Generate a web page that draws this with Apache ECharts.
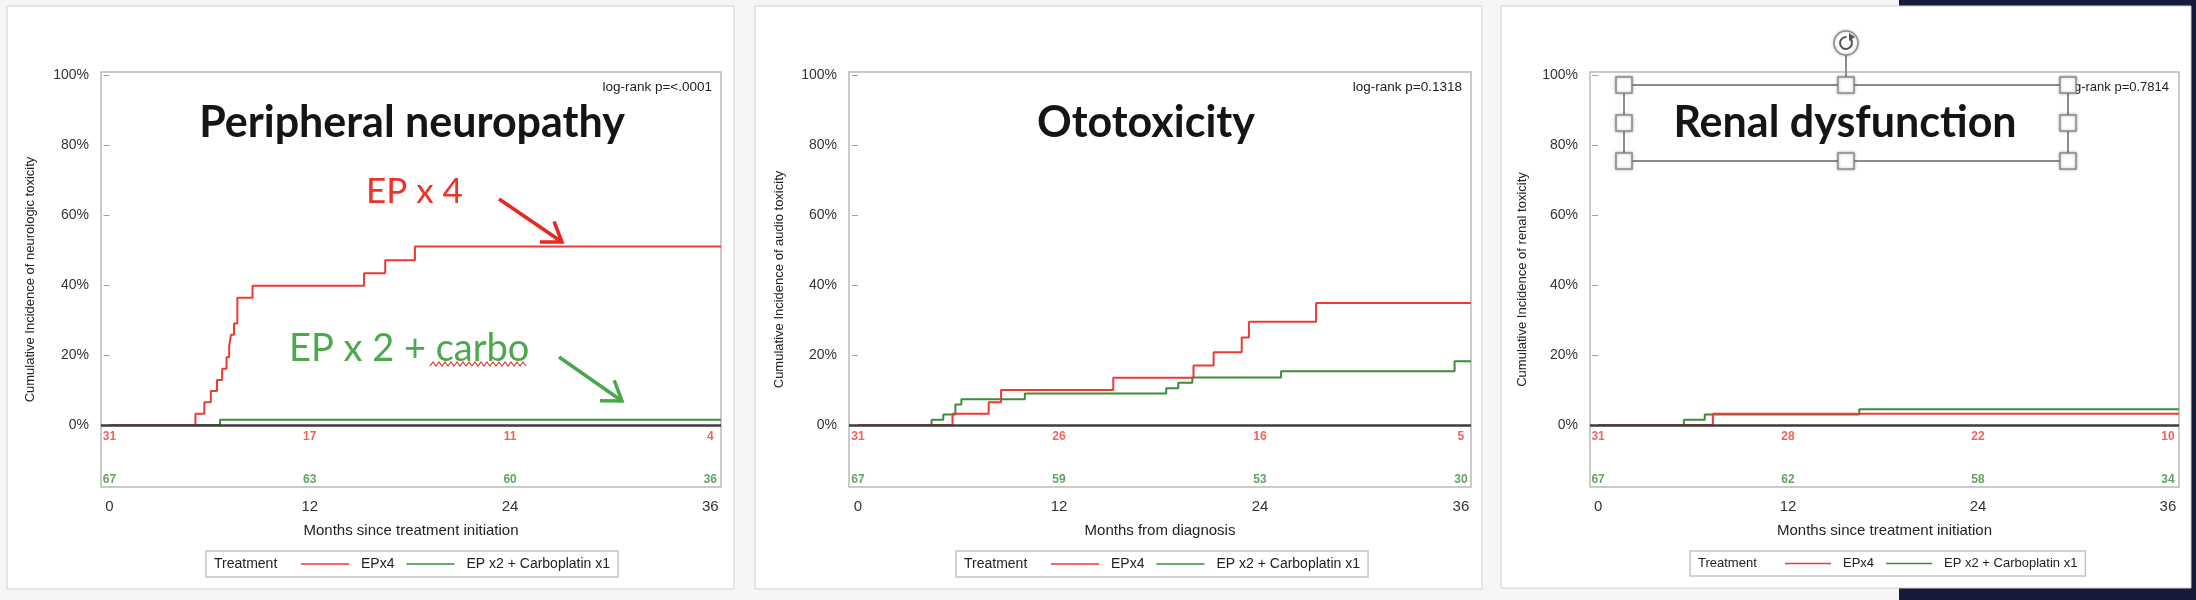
<!DOCTYPE html>
<html>
<head>
<meta charset="utf-8">
<script src="https://cdn.jsdelivr.net/npm/echarts@6/dist/echarts.min.js"></script>
<style>
html, body { margin: 0; padding: 0; background: #f6f6f7; }
#chart { width: 2196px; height: 600px; }
</style>
</head>
<body>
<div id="chart"></div>
<script>
// tick values
var monthTicks = [0, 12, 24, 36];
var pctTicks = [0, 20, 40, 60, 80, 100];

// peripheral neuropathy curves (months, cumulative %)
var neuroEp4Months = [0, 5.15, 5.68, 6.07, 6.44, 6.75, 7.01, 7.17, 7.28, 7.46, 7.66, 8.57, 15.25, 16.52, 18.3];
var neuroEp4Pct    = [0, 3.2, 6.5, 9.7, 12.9, 16.1, 19.4, 22.6, 25.8, 29.0, 36.4, 39.8, 43.4, 47.1, 51.0];
var neuroCarboMonths = [0, 6.62];
var neuroCarboPct    = [0, 1.5];

// ototoxicity curves
var audioEp4Months = [0, 5.64, 7.8, 8.54, 15.24, 20.03, 21.23, 22.91, 23.34, 27.35];
var audioEp4Pct    = [0, 3.2, 6.5, 10.0, 13.5, 17.0, 20.8, 25.0, 29.5, 34.9];
var audioCarboMonths = [0, 4.39, 5.09, 5.81, 6.17, 9.96, 18.4, 19.12, 19.96, 25.26, 35.62];
var audioCarboPct    = [0, 1.5, 3.0, 5.9, 7.4, 9.0, 10.5, 12.1, 13.6, 15.4, 18.2];

// renal dysfunction curves
var renalEp4Months = [0, 7.25];
var renalEp4Pct    = [0, 3.2];
var renalCarboMonths = [0, 5.42, 6.74, 16.5];
var renalCarboPct    = [0, 1.5, 3.0, 4.5];

// numbers at risk at 0/12/24/36 months
var riskNeuroEp4 = [31, 17, 11, 4];
var riskNeuroCarbo = [67, 63, 60, 36];
var riskAudioEp4 = [31, 26, 16, 5];
var riskAudioCarbo = [67, 59, 53, 30];
var riskRenalEp4 = [31, 28, 22, 10];
var riskRenalCarbo = [67, 62, 58, 34];

var RED = '#ee3a36', GREEN = '#3b8c3b';
var ARIAL = '"Liberation Sans", Arial, sans-serif';
var CALIBRI = 'Lato, "Open Sans", sans-serif';
var EP4 = 'EPx4', CARBO = 'EP x2 + Carboplatin x1';
var RISK_Y_EP4 = -3.3, RISK_Y_CARBO = -15.6;

var panels = [
  { left: 101, width: 620, xMin: -0.51, xMax: 36.64, nameGap: 64,
    yName: 'Cumulative Incidence of neurologic toxicity', xName: 'Months since treatment initiation',
    ep4: [neuroEp4Months, neuroEp4Pct], carbo: [neuroCarboMonths, neuroCarboPct],
    riskEp4: riskNeuroEp4, riskCarbo: riskNeuroCarbo, legendLeft: 206, legendFont: 14, iconW: 48 },
  { left: 849, width: 622, xMin: -0.54, xMax: 36.6, nameGap: 63,
    yName: 'Cumulative Incidence of audio toxicity', xName: 'Months from diagnosis',
    ep4: [audioEp4Months, audioEp4Pct], carbo: [audioCarboMonths, audioCarboPct],
    riskEp4: riskAudioEp4, riskCarbo: riskAudioCarbo, legendLeft: 956, legendFont: 14, iconW: 48 },
  { left: 1590, width: 589, xMin: -0.51, xMax: 36.7, nameGap: 61,
    yName: 'Cumulative Incidence of renal toxicity', xName: 'Months since treatment initiation',
    ep4: [renalEp4Months, renalEp4Pct], carbo: [renalCarboMonths, renalCarboPct],
    riskEp4: riskRenalEp4, riskCarbo: riskRenalCarbo, legendLeft: 1690, legendFont: 13, iconW: 46 }
];

function steps(pair, xMax) {
  var d = pair[0].map(function (m, i) { return [m, pair[1][i]]; });
  d.push([xMax, pair[1][pair[1].length - 1]]);
  return d;
}

function riskSeries(idx, counts, yVal, color) {
  return {
    type: 'scatter', name: 'risk' + idx + color, xAxisIndex: idx, yAxisIndex: idx,
    symbolSize: 1, itemStyle: { color: 'rgba(0,0,0,0)' }, silent: true,
    data: monthTicks.map(function (m, i) { return [m, yVal, counts[i]]; }),
    label: { show: true, position: 'inside', formatter: function (p) { return p.data[2]; },
      color: color, fontWeight: 'bold', fontSize: 12, fontFamily: ARIAL }
  };
}

function arrow(x1, y1, x2, y2, color) {
  var dx = x2 - x1, dy = y2 - y1, len = Math.sqrt(dx * dx + dy * dy);
  var bx = -dx / len, by = -dy / len, h = 22, c = Math.cos(0.6), s = Math.sin(0.6);
  var p1 = [x2 + h * (bx * c - by * s), y2 + h * (bx * s + by * c)];
  var p2 = [x2 + h * (bx * c + by * s), y2 + h * (-bx * s + by * c)];
  return [
    { type: 'line', z: 100, shape: { x1: x1, y1: y1, x2: x2, y2: y2 }, style: { stroke: color, lineWidth: 3.5 } },
    { type: 'polyline', z: 100, shape: { points: [p1, [x2, y2], p2] }, style: { stroke: color, lineWidth: 3.5, fill: null } }
  ];
}

var grids = [], xAxes = [], yAxes = [], series = [], legends = [], graphics = [];

// slide background and cards
graphics.push({ type: 'rect', z: -5, shape: { x: 1899, y: 0, width: 297, height: 600 }, style: { fill: '#181a3a' } });
[[7, 6, 727, 583], [755, 6, 727, 583], [1501, 6, 690, 582]].forEach(function (c) {
  graphics.push({ type: 'rect', z: -4, shape: { x: c[0], y: c[1], width: c[2], height: c[3] },
    style: { fill: '#ffffff', stroke: '#d0d0d0', lineWidth: 1 } });
});

panels.forEach(function (p, i) {
  grids.push({ left: p.left, width: p.width, top: 72, height: 415, show: true,
    backgroundColor: '#fff', borderColor: '#b9b9b9', borderWidth: 1.5 });
  xAxes.push({ type: 'value', gridIndex: i, min: p.xMin, max: p.xMax,
    axisLine: { show: false }, axisTick: { show: false }, splitLine: { show: false },
    axisLabel: { customValues: monthTicks, margin: 12, fontSize: 15, color: '#333', fontFamily: ARIAL },
    name: p.xName, nameLocation: 'middle', nameGap: 36,
    nameTextStyle: { fontSize: 15, color: '#222', fontFamily: ARIAL } });
  yAxes.push({ type: 'value', gridIndex: i, min: -17.7, max: 100.86,
    axisLine: { show: false }, splitLine: { show: false },
    axisTick: { show: true, customValues: pctTicks, length: 6, lineStyle: { color: '#a0a0a0' } },
    axisLabel: { customValues: pctTicks, margin: 12, formatter: '{value}%', fontSize: 14, color: '#333', fontFamily: ARIAL },
    name: p.yName, nameLocation: 'middle', nameGap: p.nameGap,
    nameTextStyle: { fontSize: 13, color: '#222', fontFamily: ARIAL } });

  series.push({ type: 'line', name: EP4, xAxisIndex: i, yAxisIndex: i, step: 'end', symbol: 'none',
    lineStyle: { color: RED, width: 2 }, itemStyle: { color: RED }, z: 3,
    data: steps(p.ep4, p.xMax),
    markLine: { silent: true, symbol: ['none', 'none'], label: { show: false },
      lineStyle: { color: '#3c3c3c', width: 2.5, type: 'solid' }, data: [{ yAxis: 0 }] } });
  series.push({ type: 'line', name: CARBO, xAxisIndex: i, yAxisIndex: i, step: 'end', symbol: 'none',
    lineStyle: { color: GREEN, width: 2 }, itemStyle: { color: GREEN }, z: 2,
    data: steps(p.carbo, p.xMax) });
  series.push(riskSeries(i, p.riskEp4, RISK_Y_EP4, RED));
  series.push(riskSeries(i, p.riskCarbo, RISK_Y_CARBO, GREEN));

  legends.push({ left: p.legendLeft, top: 551, orient: 'horizontal', selectedMode: false,
    padding: [6, 8, 6, 95], borderColor: '#c4c4c4', borderWidth: 1.5, backgroundColor: '#fff',
    icon: 'rect', itemWidth: p.iconW, itemHeight: 1.5, itemGap: 12,
    textStyle: { fontFamily: ARIAL, fontSize: p.legendFont, color: '#222', padding: [0, 0, 0, 7] },
    data: [EP4, CARBO] });
  graphics.push({ type: 'text', z: 50, left: p.legendLeft + 8, top: 557,
    style: { text: 'Treatment', font: p.legendFont + 'px ' + ARIAL, fill: '#222' } });
});

// log-rank p values
[[712, 'log-rank p=<.0001', 13.5], [1462, 'log-rank p=0.1318', 13.5], [2169, 'log-rank p=0.7814', 13]].forEach(function (t) {
  graphics.push({ type: 'text', z: 50, x: t[0], y: 87,
    style: { text: t[1], font: t[2] + 'px ' + ARIAL, fill: '#222', align: 'right', verticalAlign: 'middle' } });
});

// slide titles
[[412, 'Peripheral neuropathy'], [1146, 'Ototoxicity'], [1845, 'Renal dysfunction']].forEach(function (t) {
  graphics.push({ type: 'text', z: 60, x: t[0], y: 123,
    style: { text: t[1], font: 'bold 43px ' + CALIBRI, fill: '#151515', align: 'center', verticalAlign: 'middle' } });
});

// annotations on the first panel
graphics.push({ type: 'text', z: 60, x: 366, y: 192,
  style: { text: 'EP x 4', font: '35px ' + CALIBRI, fill: '#ec3326', align: 'left', verticalAlign: 'middle' } });
graphics.push({ type: 'text', z: 60, x: 289, y: 349,
  style: { text: 'EP x 2 + carbo', font: '38px ' + CALIBRI, fill: '#4ba84c', align: 'left', verticalAlign: 'middle' } });
var wave = [];
for (var wx = 430, k = 0; wx <= 526; wx += 3, k++) wave.push([wx, k % 2 ? 362 : 366]);
graphics.push({ type: 'polyline', z: 60, shape: { points: wave }, style: { stroke: '#e8352b', lineWidth: 1.2, fill: null } });
graphics = graphics.concat(arrow(499, 199, 562, 242, '#e8281e'));
graphics = graphics.concat(arrow(559, 357, 622, 401, '#4ca64c'));

// selection box around the third title
graphics.push({ type: 'rect', z: 70, shape: { x: 1624, y: 85, width: 444, height: 76 },
  style: { fill: null, stroke: '#8c8c8c', lineWidth: 2 } });
graphics.push({ type: 'line', z: 70, shape: { x1: 1846, y1: 55, x2: 1846, y2: 85 }, style: { stroke: '#8c8c8c', lineWidth: 2 } });
graphics.push({ type: 'circle', z: 72, shape: { cx: 1846, cy: 43, r: 12 },
  style: { fill: '#fff', stroke: '#8c8c8c', lineWidth: 1.5, shadowBlur: 3, shadowColor: 'rgba(0,0,0,0.25)' } });
graphics.push({ type: 'arc', z: 73, shape: { cx: 1846, cy: 43, r: 6, startAngle: -0.9, endAngle: 4.8 },
  style: { stroke: '#555', lineWidth: 2, fill: null } });
graphics.push({ type: 'polygon', z: 73, shape: { points: [[1849, 33], [1855, 37], [1849, 41]] }, style: { fill: '#555' } });
[[1624, 85], [1846, 85], [2068, 85], [1624, 123], [2068, 123], [1624, 161], [1846, 161], [2068, 161]].forEach(function (h) {
  graphics.push({ type: 'rect', z: 75, shape: { x: h[0] - 8, y: h[1] - 8, width: 16, height: 16 },
    style: { fill: '#fff', stroke: '#8c8c8c', lineWidth: 1.5, shadowBlur: 3, shadowColor: 'rgba(0,0,0,0.3)' } });
});

var myChart = echarts.init(document.getElementById('chart'));
myChart.setOption({
  animation: false,
  grid: grids,
  xAxis: xAxes,
  yAxis: yAxes,
  legend: legends,
  series: series,
  graphic: { elements: graphics }
});
</script>
</body>
</html>
